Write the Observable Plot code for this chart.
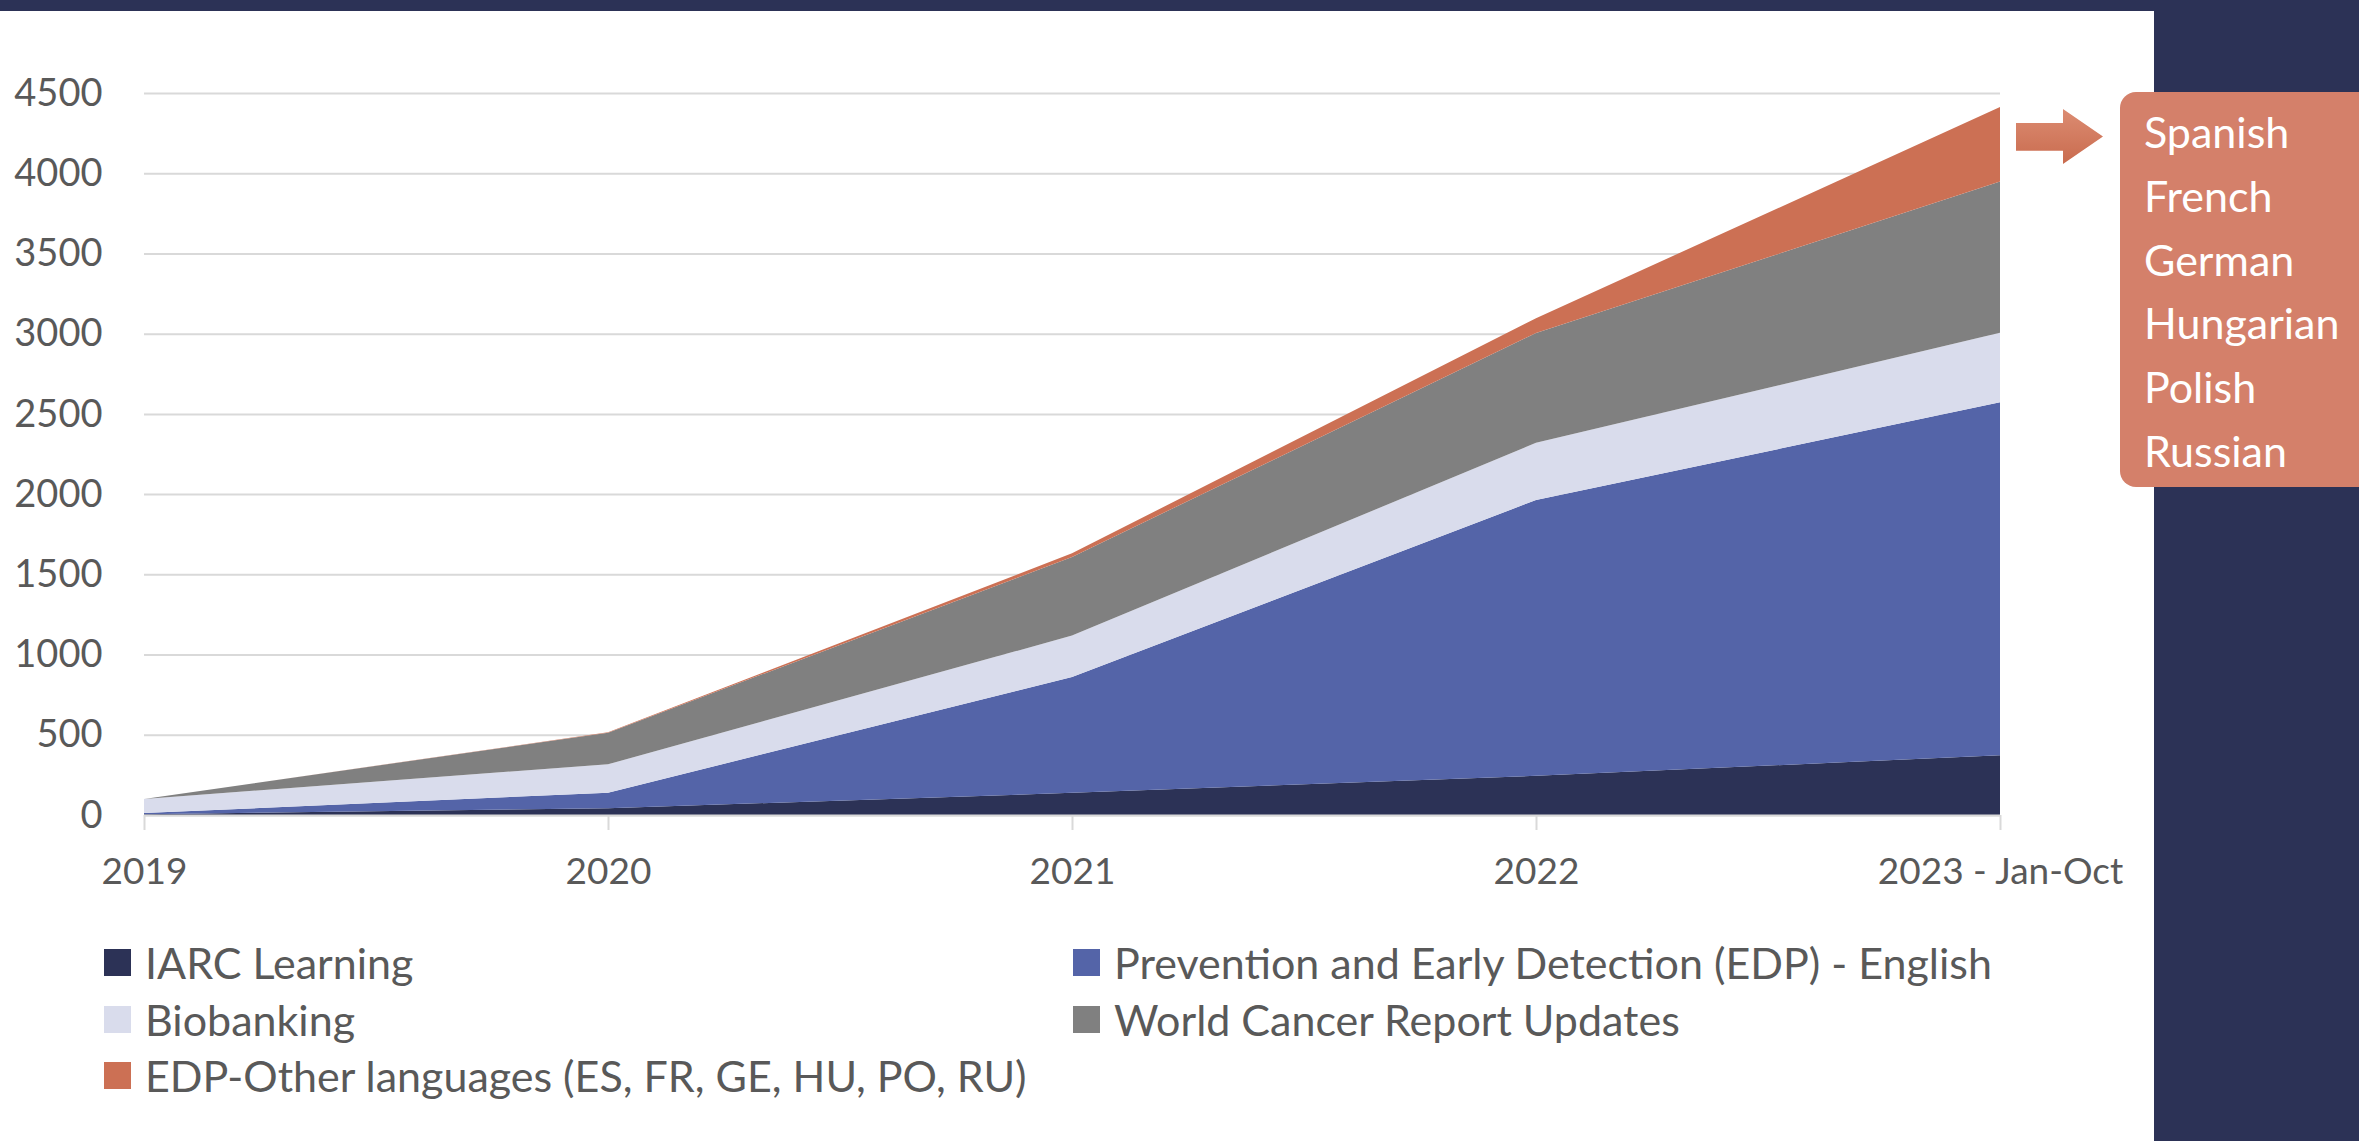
<!DOCTYPE html>
<html>
<head>
<meta charset="utf-8">
<script src="https://cdn.jsdelivr.net/npm/d3@7"></script>
<script src="https://cdn.jsdelivr.net/npm/@observablehq/plot@0.6"></script>
<style>
html, body { margin: 0; padding: 0; width: 2359px; height: 1141px; overflow: hidden; background: #ffffff; font-family: Lato, "Open Sans", sans-serif; }
#topbar { position: absolute; left: 0; top: 0; width: 2359px; height: 11px; background: #2C3256; }
#panel { position: absolute; left: 2154px; top: 0; width: 205px; height: 1141px; background: #2C3256; }
#chart { position: absolute; left: 0; top: 0; }
#legend { position: absolute; left: 0; top: 0; width: 2154px; height: 1141px; pointer-events: none; }
.item { position: absolute; display: flex; align-items: center; font-size: 43px; color: #595959; white-space: nowrap; line-height: 1; }
.sw { width: 27px; height: 27px; margin-right: 14px; flex: none; }
#callout { position: absolute; left: 2120px; top: 92px; width: 239px; height: 395px; background: #D4806A; border-radius: 16px 0 0 16px; }
#callout div { position: absolute; left: 24px; color: #ffffff; font-size: 43px; line-height: 1; }
#arrow { position: absolute; left: 2016px; top: 109px; width: 87px; height: 55px;
  background: linear-gradient(#DC8C72, #C96B4E);
  clip-path: polygon(0 25.5%, 54% 25.5%, 54% 0, 100% 50%, 54% 100%, 54% 76%, 0 76%); }
</style>
</head>
<body>
<div id="topbar"></div>
<div id="panel"></div>
<div id="chart"></div>
<div id="legend"></div>
<div id="arrow"></div>
<div id="callout"></div>
<script>
// ---- data ----
const xLabels = ["2019", "2020", "2021", "2022", "2023 - Jan-Oct"];
const seriesNames = [
  "IARC Learning",
  "Prevention and Early Detection (EDP) - English",
  "Biobanking",
  "World Cancer Report Updates",
  "EDP-Other languages (ES, FR, GE, HU, PO, RU)"
];
const iarcLearning   = [5, 42, 138, 244, 372];
const edpEnglish     = [7, 97, 722, 1719, 2200];
const biobanking     = [88, 177, 258, 357, 433];
const worldCancer    = [0, 197, 490, 684, 943];
const edpOther       = [0, 2, 23, 92, 464];
const seriesColors = ["#2C3256", "#5464A8", "#D9DCEC", "#808080", "#CC7054"];
const yTicks = [0, 500, 1000, 1500, 2000, 2500, 3000, 3500, 4000, 4500];
const languages = ["Spanish", "French", "German", "Hungarian", "Polish", "Russian"];

const seriesValues = [iarcLearning, edpEnglish, biobanking, worldCancer, edpOther];
const rows = [];
seriesNames.forEach((name, s) => {
  xLabels.forEach((lab, i) => rows.push({series: name, i, value: seriesValues[s][i]}));
});

const chart = Plot.plot({
  width: 2154,
  height: 900,
  marginLeft: 144,
  marginRight: 154,
  marginTop: 93,
  marginBottom: 85,
  style: {fontFamily: "Lato, 'Open Sans', sans-serif", fontSize: "37px", background: "transparent", color: "#595959"},
  x: {type: "linear", domain: [0, 4]},
  y: {domain: [0, 4500]},
  color: {domain: seriesNames, range: seriesColors},
  marks: [
    Plot.gridY(yTicks, {stroke: "#D9D9D9", strokeOpacity: 1, strokeWidth: 2}),
    Plot.areaY(rows, {x: "i", y: "value", fill: "series", z: "series", order: seriesNames}),
    Plot.ruleY([0], {stroke: "#D9D9D9", strokeWidth: 2}),
    Plot.axisY({ticks: yTicks, tickFormat: d => String(d), tickSize: 0, tickPadding: 42, fontSize: 38, fill: "#595959", label: null}),
    Plot.axisX({ticks: [0, 1, 2, 3, 4], tickFormat: i => xLabels[i], tickSize: 15, tickPadding: 27,
      stroke: "#D9D9D9", strokeWidth: 2, strokeOpacity: 1, fontSize: 37, fill: "#595959", label: null})
  ]
});
document.getElementById("chart").appendChild(chart);

// legend
const legendPos = [
  [104, 953], [1073, 953],
  [104, 1010], [1073, 1010],
  [104, 1066]
];
const legend = document.getElementById("legend");
seriesNames.forEach((name, s) => {
  const it = document.createElement("div");
  it.className = "item";
  it.style.left = legendPos[s][0] + "px";
  it.style.top = (legendPos[s][1] - 12) + "px";
  it.innerHTML = `<span class="sw" style="background:${seriesColors[s]}"></span><span>${name}</span>`;
  legend.appendChild(it);
});

// callout
const callout = document.getElementById("callout");
languages.forEach((l, k) => {
  const d = document.createElement("div");
  d.textContent = l;
  d.style.top = (18 + k * 63.8) + "px";
  callout.appendChild(d);
});
</script>
</body>
</html>
